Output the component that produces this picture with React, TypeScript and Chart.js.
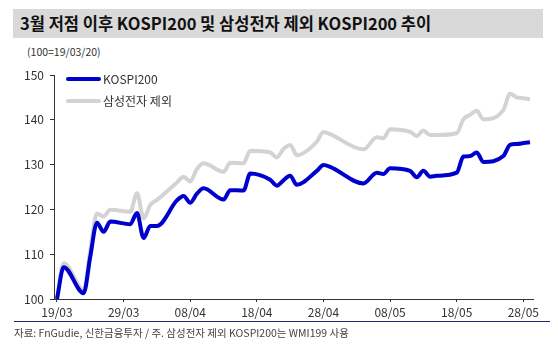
import React, { useEffect, useRef } from "react";
import { Chart, registerables } from "chart.js";

Chart.register(...registerables);

const title = "3월 저점 이후 KOSPI200 및 삼성전자 제외 KOSPI200 추이";
const subtitle = "(100=19/03/20)";
const source = "자료: FnGudie, 신한금융투자 / 주. 삼성전자 제외 KOSPI200는 WMI199 사용";
const seriesNames = ["KOSPI200", "삼성전자 제외"];

const tradeDates = [
  "2020-03-19", "2020-03-20", "2020-03-23", "2020-03-24", "2020-03-25", "2020-03-26", "2020-03-27", "2020-03-30", "2020-03-31",
  "2020-04-01", "2020-04-02", "2020-04-03", "2020-04-06", "2020-04-07", "2020-04-08", "2020-04-09", "2020-04-10",
  "2020-04-13", "2020-04-14", "2020-04-16", "2020-04-17", "2020-04-20", "2020-04-21", "2020-04-22", "2020-04-23",
  "2020-04-24", "2020-04-27", "2020-04-28", "2020-04-29",
  "2020-05-04", "2020-05-06", "2020-05-07", "2020-05-08", "2020-05-11", "2020-05-12", "2020-05-13", "2020-05-14",
  "2020-05-15", "2020-05-18", "2020-05-19", "2020-05-20", "2020-05-21", "2020-05-22", "2020-05-25", "2020-05-26",
  "2020-05-27", "2020-05-28", "2020-05-29",
];

const kospi200 = [
  100, 107.1, 101.3, 109.5, 117, 115, 117.3, 116.7, 119.2,
  113.6, 116.3, 116.3, 122, 123, 121.5, 123.5, 124.7,
  122.2, 124.3, 124.2, 128, 126.6, 125.3, 126.5, 127.5,
  125.5, 128.6, 129.9, 129.5,
  125.8, 128.2, 127.9, 129.2, 128.6, 127.2, 128.6, 127.3,
  127.5, 128.2, 131.8, 131.9, 132.7, 130.6, 131.9, 134.4,
  134.6, 134.8, 135,
];

const exSamsung = [
  100, 108, 102, 111, 119.1, 118.4, 119.9, 119.5, 123.6,
  118, 121, 122.1, 126, 127.3, 126.2, 129, 130.3,
  128.4, 130.4, 130.3, 133.1, 132.7, 131.6, 133.5, 134.4,
  132.1, 135.1, 137.3, 136.8,
  133.4, 136.1, 135.9, 137.9, 137.3, 136.4, 137.6, 136.6,
  136.6, 137, 140.1, 141.1, 142, 140.1, 142.2, 145.8,
  145, 144.8, 144.6,
];

const xTickDays = [0, 10, 20, 30, 40, 50, 60, 70];
const yMin = 100;
const yMax = 150;

const baseDate = Date.UTC(2020, 2, 19);
const dayOf = (s: string) => {
  const [y, m, d] = s.split("-").map(Number);
  return Math.round((Date.UTC(y, m - 1, d) - baseDate) / 86400000);
};
const labelOf = (day: number) => {
  const dt = new Date(baseDate + day * 86400000);
  const dd = String(dt.getUTCDate()).padStart(2, "0");
  const mm = String(dt.getUTCMonth() + 1).padStart(2, "0");
  return `${dd}/${mm}`;
};

const FONT = "'Noto Sans CJK KR', 'Noto Sans', sans-serif";
const BLUE = "#0000CC";
const GRAY = "#D3D3D3";

const legendPlugin = {
  id: "inlineLegend",
  afterDraw(chart: any) {
    const ctx = chart.ctx;
    const items = [
      { label: seriesNames[0], color: BLUE, y: 79 },
      { label: seriesNames[1], color: GRAY, y: 101 },
    ];
    ctx.save();
    ctx.font = `12px ${FONT}`;
    ctx.textBaseline = "middle";
    for (const it of items) {
      ctx.strokeStyle = it.color;
      ctx.lineWidth = 4;
      ctx.lineCap = "round";
      ctx.beginPath();
      ctx.moveTo(68, it.y);
      ctx.lineTo(99, it.y);
      ctx.stroke();
      ctx.fillStyle = "#333";
      ctx.fillText(it.label, 103, it.y);
    }
    ctx.restore();
  },
};

export default function App() {
  const ref = useRef<HTMLCanvasElement | null>(null);

  useEffect(() => {
    document.body.style.margin = "0";
    const canvas = ref.current;
    if (!canvas) return;
    const days = tradeDates.map(dayOf);
    const chart = new Chart(canvas, {
      type: "line",
      data: {
        datasets: [
          {
            label: seriesNames[0],
            data: days.map((d, i) => ({ x: d, y: kospi200[i] })),
            borderColor: BLUE,
            borderWidth: 4,
            pointRadius: 0,
            cubicInterpolationMode: "monotone",
          },
          {
            label: seriesNames[1],
            data: days.map((d, i) => ({ x: d, y: exSamsung[i] })),
            borderColor: GRAY,
            borderWidth: 4,
            pointRadius: 0,
            cubicInterpolationMode: "monotone",
          },
        ],
      },
      options: {
        animation: false,
        responsive: false,
        maintainAspectRatio: false,
        layout: { padding: { left: 0, right: 25, top: 75, bottom: 32 } },
        plugins: { legend: { display: false }, tooltip: { enabled: false } },
        scales: {
          x: {
            type: "linear",
            min: -0.45,
            max: 71.45,
            afterBuildTicks: (scale: any) => {
              scale.ticks = xTickDays.map((v) => ({ value: v }));
            },
            afterFit: (scale: any) => {
              scale.height = 25;
            },
            grid: { drawOnChartArea: false, drawTicks: true, tickLength: 3, color: "#333" },
            border: { display: true, color: "#333", width: 1 },
            ticks: {
              autoSkip: false,
              maxRotation: 0,
              padding: 3,
              color: "#333",
              font: { family: FONT, size: 12 },
              callback: (v: any) => labelOf(Number(v)),
            },
          },
          y: {
            min: yMin,
            max: yMax,
            afterFit: (scale: any) => {
              scale.width = 54;
            },
            grid: { drawOnChartArea: false, drawTicks: true, tickLength: 4, color: "#333" },
            border: { display: true, color: "#333", width: 1 },
            ticks: {
              stepSize: 10,
              padding: 6,
              color: "#333",
              font: { family: FONT, size: 12 },
            },
          },
        },
      },
      plugins: [legendPlugin],
    });
    return () => chart.destroy();
  }, []);

  return (
    <div style={{ position: "relative", width: 558, height: 356, background: "#fff", overflow: "hidden", fontFamily: FONT }}>
      <div
        style={{
          position: "absolute",
          left: 13,
          top: 9,
          width: 530,
          height: 29,
          background: "#D9D9D9",
        }}
      />
      <div
        style={{
          position: "absolute",
          left: 20,
          top: 9,
          height: 29,
          lineHeight: "29px",
          fontSize: 16.5,
          fontWeight: 700,
          color: "#111",
          whiteSpace: "nowrap",
        }}
      >
        {title}
      </div>
      <div style={{ position: "absolute", left: 27, top: 44, fontSize: 10.5, color: "#333", whiteSpace: "nowrap" }}>
        {subtitle}
      </div>
      <canvas ref={ref} width={558} height={356} style={{ position: "absolute", left: 0, top: 0, width: 558, height: 356 }} />
      <div style={{ position: "absolute", left: 14, top: 321, width: 536, height: 1, background: "#1F2A6B" }} />
      <div style={{ position: "absolute", left: 14, top: 325, fontSize: 10.5, color: "#444", whiteSpace: "nowrap" }}>
        {source}
      </div>
    </div>
  );
}
